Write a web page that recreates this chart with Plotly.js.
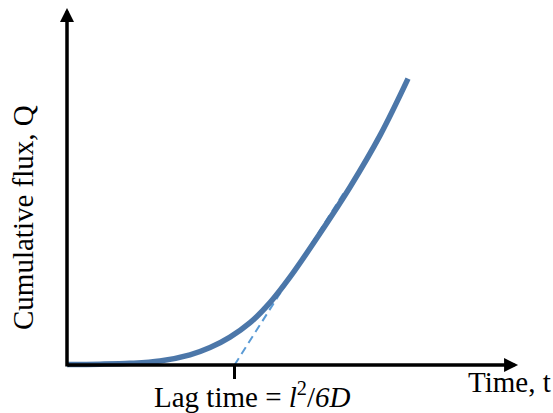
<!DOCTYPE html>
<html>
<head>
<meta charset="utf-8">
<script src="https://cdn.plot.ly/plotly-3.0.1.min.js"></script>
<style>html,body{margin:0;padding:0;background:#fff;}#chart{width:553px;height:413px;}</style>
</head>
<body>
<div id="chart"></div>
<script>
// Cumulative flux curve (time in units of lag time)
const timeValues = [0, 0.197, 0.376, 0.555, 0.734, 0.854, 0.973, 1.093, 1.212, 1.331, 1.510, 1.690, 1.869, 2.036];
const fluxValues = [0.003, 0.005, 0.010, 0.024, 0.061, 0.105, 0.168, 0.255, 0.376, 0.529, 0.792, 1.072, 1.383, 1.725];
// Steady-state asymptote (dashed), intercepting the time axis at the lag time
const asymptoteTime = [1.0, 1.66];
const asymptoteFlux = [0, 1.048];
const lagTime = 1.0;
const xLabel = 'Time, t';
const yLabel = 'Cumulative flux, Q';
const lagLabel = 'Lag time = <i>l</i><sup>2</sup>/<i>6D</i>';
const xAxisEnd = 2.693;
const yAxisEnd = 2.151;

const serif = 'Liberation Serif, Times New Roman, serif';

const traces = [
  {
    x: asymptoteTime, y: asymptoteFlux, mode: 'lines', type: 'scatter',
    line: {color: '#5B9BD5', width: 2, dash: '8px,5px'}, hoverinfo: 'skip'
  },
  {
    x: timeValues, y: fluxValues, mode: 'lines', type: 'scatter',
    line: {color: '#4673A6', width: 5.5, shape: 'spline', smoothing: 1}, hoverinfo: 'skip', opacity: 0.97
  }
];

const layout = {
  width: 553, height: 413,
  margin: {l: 0, r: 0, t: 0, b: 0},
  paper_bgcolor: '#fff', plot_bgcolor: '#fff',
  showlegend: false,
  xaxis: {
    range: [-0.4, 2.9015], showgrid: false, zeroline: false, showline: false,
    anchor: 'free', position: 1 - 365/413,
    tickvals: [lagTime], ticktext: [''], ticks: 'outside', ticklen: 13, tickwidth: 3, tickcolor: '#000',
    fixedrange: true
  },
  yaxis: {
    range: [-0.2892, 2.1988], showgrid: false, zeroline: false, showline: false,
    showticklabels: false, ticks: '', fixedrange: true
  },
  annotations: [
    {x: xAxisEnd, y: 0, ax: -0.004, ay: 0, xref: 'x', yref: 'y', axref: 'x', ayref: 'y',
     text: '', showarrow: true, arrowhead: 2, arrowsize: 0.8, arrowwidth: 3.5, arrowcolor: '#000'},
    {x: 0, y: yAxisEnd, ax: 0, ay: -0.018, xref: 'x', yref: 'y', axref: 'x', ayref: 'y',
     text: '', showarrow: true, arrowhead: 2, arrowsize: 0.8, arrowwidth: 3.5, arrowcolor: '#000'},
    {x: 509/553, y: 1 - 382/413, xref: 'paper', yref: 'paper', xanchor: 'center', yanchor: 'middle',
     text: xLabel, showarrow: false, font: {family: serif, size: 29, color: '#000'}},
    {x: 252.5/553, y: 1 - 395/413, xref: 'paper', yref: 'paper', xanchor: 'center', yanchor: 'middle',
     text: lagLabel, showarrow: false, font: {family: serif, size: 29, color: '#000'}},
    {x: 23/553, y: 1 - 218/413, xref: 'paper', yref: 'paper', xanchor: 'center', yanchor: 'middle',
     text: yLabel, textangle: -90, showarrow: false, font: {family: serif, size: 29, color: '#000'}}
  ]
};

Plotly.newPlot('chart', traces, layout, {staticPlot: true, displayModeBar: false});
</script>
</body>
</html>
